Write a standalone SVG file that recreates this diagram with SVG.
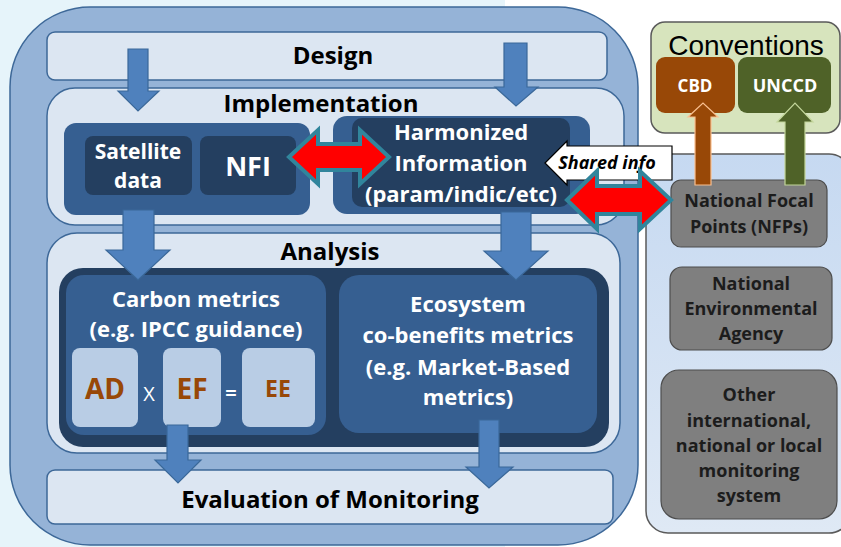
<svg xmlns="http://www.w3.org/2000/svg" width="841" height="547" viewBox="0 0 841 547">
<defs>
<linearGradient id="gPanel" x1="0" y1="0" x2="0" y2="1">
<stop offset="0" stop-color="#c6d9f1"/>
<stop offset="1" stop-color="#dfe9f5"/>
</linearGradient>
</defs>
<style>
text{font-family:"Open Sans","Liberation Sans",sans-serif;text-anchor:middle;font-weight:bold}
.lt{fill:#dce6f2;stroke:#3d6898;stroke-width:1.5}
.mid{fill:#365f91}
.dk{fill:#243f60}
.ltb{fill:#b9cde5}
.h1{font-size:24px;fill:#000}
.w{fill:#fff;font-size:22px}
.br{fill:#984807}
.gray{fill:#7f7f7f;stroke:#4d4d4d;stroke-width:1.2}
.gt{fill:#1c1c1c;font-size:18px}
.blue{fill:#4f81bd;stroke:#3a6899;stroke-width:1.2}
.red{fill:#ff0000;stroke:#31859c;stroke-width:4;stroke-linejoin:miter}
</style>
<rect x="0" y="0" width="505" height="547" fill="#e6f4fa"/>
<g id="main">
<rect x="10" y="7" width="628" height="538" rx="80" fill="#95b3d7" stroke="#3d6898" stroke-width="1.5"/>
</g>
<g id="design">
<rect class="lt" x="47" y="32" width="560" height="48" rx="8"/>
<text class="h1" x="333" y="64">Design</text>
</g>
<g id="implementation">
<rect class="lt" x="47" y="88" width="577" height="137" rx="28"/>
<text class="h1" x="321" y="112">Implementation</text>
</g>
<g id="sat-nfi-group">
<rect class="mid" x="64" y="123" width="246" height="92" rx="12"/>
</g>
<g id="satellite">
<rect class="dk" x="85" y="136" width="107" height="59" rx="8"/>
<text class="w" x="138" y="159" style="font-size:21px">Satellite</text>
<text class="w" x="138" y="188" style="font-size:21px">data</text>
</g>
<g id="nfi">
<rect class="dk" x="200" y="136" width="96" height="59" rx="8"/>
<text class="w" x="248" y="176" style="font-size:27px">NFI</text>
</g>
<g id="harmonized">
<rect class="mid" x="333" y="116" width="257" height="98" rx="14"/>
<rect class="dk" x="352" y="118" width="218" height="89" rx="10"/>
<text class="w" x="461" y="140">Harmonized</text>
<text class="w" x="461" y="171">Information</text>
<text class="w" x="461" y="202">(param/indic/etc)</text>
</g>
<g id="analysis">
<rect class="lt" x="47" y="233" width="573" height="220" rx="30"/>
<text class="h1" x="330" y="260">Analysis</text>
<rect class="dk" x="59" y="268" width="550" height="179" rx="24"/>
</g>
<g id="carbon">
<rect class="mid" x="66" y="275" width="260" height="160" rx="18"/>
<text class="w" x="196" y="307">Carbon metrics</text>
<text class="w" x="196" y="337">(e.g. IPCC guidance)</text>
<rect class="ltb" x="72" y="348" width="66" height="79" rx="8"/>
<text class="br" x="105" y="399" style="font-size:28px">AD</text>
<text x="149" y="401" fill="#fff" style="font-size:20px;font-weight:normal">X</text>
<rect class="ltb" x="163" y="348" width="58" height="79" rx="8"/>
<text class="br" x="192" y="399" style="font-size:28px">EF</text>
<text x="231" y="400" fill="#fff" style="font-size:20px">=</text>
<rect class="ltb" x="242" y="348" width="73" height="79" rx="8"/>
<text class="br" x="278" y="397" style="font-size:23px">EE</text>
</g>
<g id="ecosystem">
<rect class="mid" x="339" y="275" width="258" height="158" rx="20"/>
<text class="w" x="468" y="312">Ecosystem</text>
<text class="w" x="468" y="343">co-benefits metrics</text>
<text class="w" x="468" y="375">(e.g. Market-Based</text>
<text class="w" x="468" y="405">metrics)</text>
</g>
<g id="evaluation">
<rect class="lt" x="47" y="470" width="566" height="54" rx="8"/>
<text class="h1" x="330" y="508">Evaluation of Monitoring</text>
</g>
<g id="national-panel">
<rect x="646" y="154" width="205" height="379" rx="22" fill="url(#gPanel)" stroke="#5a5a5a" stroke-width="1.5"/>
</g>
<g id="conventions">
<rect x="651" y="22" width="189" height="111" rx="14" fill="#d7e4bd" stroke="#5a5a5a" stroke-width="1.5"/>
<text x="746" y="55" style="font-family:'Liberation Sans',Arial,sans-serif;font-size:28px;font-weight:normal" fill="#000">Conventions</text>
</g>
<g id="cbd">
<rect x="656" y="57" width="79" height="56" rx="9" fill="#984807"/>
<text class="w" x="695" y="92" style="font-size:17px">CBD</text>
</g>
<g id="unccd">
<rect x="738" y="57" width="93" height="56" rx="9" fill="#4f6228"/>
<text class="w" x="785" y="92" style="font-size:18px">UNCCD</text>
</g>
<g id="nfp">
<rect class="gray" x="671" y="180" width="156" height="67" rx="10"/>
<text class="gt" x="749" y="207">National Focal</text>
<text class="gt" x="749" y="233">Points (NFPs)</text>
</g>
<g id="nea">
<rect class="gray" x="670" y="267" width="162" height="83" rx="12"/>
<text class="gt" x="751" y="290">National</text>
<text class="gt" x="751" y="315">Environmental</text>
<text class="gt" x="751" y="340">Agency</text>
</g>
<g id="other">
<rect class="gray" x="661" y="370" width="176" height="149" rx="18"/>
<text class="gt" x="749" y="401">Other</text>
<text class="gt" x="749" y="427">international,</text>
<text class="gt" x="749" y="452">national or local</text>
<text class="gt" x="749" y="477">monitoring</text>
<text class="gt" x="749" y="502">system</text>
</g>
<g id="connectors">
<polygon class="blue" points="128,49 148,49 148,91 159,91 138,111 118,91 128,91"/>
<polygon class="blue" points="504,43 527,43 527,87 538,87 516,106 495,87 504,87"/>
<polygon class="blue" points="123,210 154,210 154,250 170,250 138,280 106,250 123,250"/>
<polygon class="blue" points="501,212 531,212 531,251 548,251 516,280 484,251 501,251"/>
<polygon class="blue" points="167,425 188,425 188,460 201,460 178,483 155,460 167,460"/>
<polygon class="blue" points="479,420 499,420 499,467 513,467 489,488 466,467 479,467"/>
<polygon class="red" points="289,157 318,130 318,144 360,144 360,130 389,157 360,184 360,170 318,170 318,184"/>
<g id="shared-info">
<polygon points="545,163 567,141 567,146 672,146 672,180 567,180 567,185" fill="#fff" stroke="#000" stroke-width="1.2"/>
<text x="607" y="169" style="font-size:18px;font-style:italic" fill="#000">Shared info</text>
</g>
<polygon class="red" points="567,200 597,171 597,186 640,186 640,171 671,200 640,229 640,214 597,214 597,229"/>
<polygon points="695,185 695,117 688,117 703,103 718,117 711,117 711,185" fill="#984807" stroke="#fac090" stroke-width="1.2"/>
<polygon points="785,185 785,122 777,122 795,103 813,122 805,122 805,185" fill="#4f6228" stroke="#c3d69b" stroke-width="1.2"/>
</g>
</svg>
